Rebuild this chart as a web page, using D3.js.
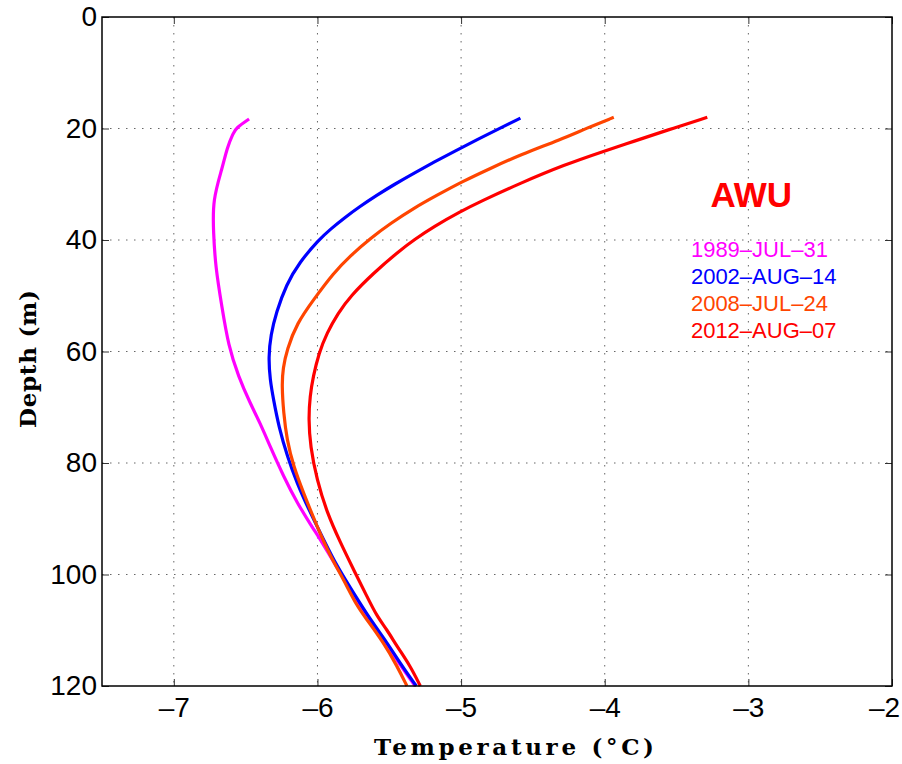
<!DOCTYPE html>
<html>
<head>
<meta charset="utf-8">
<script src="https://cdn.jsdelivr.net/npm/d3@7"></script>
<style>
  body { margin: 0; background: #fff; }
  svg { display: block; }
</style>
</head>
<body>
<div id="chart"></div>
<script>
// profils de température (profondeur en m, température en °C)
const depth1989 = [18.3, 19.9, 20.8, 23.5, 26.9, 32.8, 38.7, 44.8, 51.9, 59, 64.5, 69.2, 72.8, 77, 82.4, 87.1, 91.9, 93.7, 98.5, 103.3, 108.1, 112.2, 116.4, 120];
const temp1989  = [-6.476, -6.566, -6.586, -6.63, -6.66, -6.73, -6.724, -6.71, -6.666, -6.62, -6.55, -6.47, -6.40, -6.33, -6.236, -6.143, -6.027, -5.98, -5.87, -5.755, -5.64, -5.525, -5.42, -5.32];

const depth2002 = [18.15, 20, 22, 24, 26, 28, 30, 32, 34, 36, 38, 40, 44, 48, 53, 57, 61, 65.1, 68.6, 73.4, 78.8, 83.6, 88.9, 93.7, 98.5, 103.3, 108.1, 112.2, 116.4, 120];
const temp2002  = [-4.587, -4.733, -4.888, -5.040, -5.186, -5.327, -5.463, -5.589, -5.705, -5.811, -5.907, -5.993, -6.125, -6.217, -6.287, -6.325, -6.341, -6.33, -6.306, -6.27, -6.21, -6.143, -6.05, -5.958, -5.865, -5.749, -5.632, -5.516, -5.412, -5.312];

const depth2008 = [18, 19.9, 22, 24.7, 27.2, 29.5, 32, 34.3, 37, 39.7, 42.8, 45.9, 50.7, 54.9, 59.7, 63, 66, 71, 75.8, 80.6, 85.4, 91.3, 96.7, 100.9, 105.7, 108.1, 112.2, 116.4, 120];
const temp2008  = [-3.937, -4.122, -4.308, -4.587, -4.80, -4.99, -5.17, -5.33, -5.49, -5.632, -5.77, -5.888, -6.027, -6.143, -6.213, -6.24, -6.248, -6.236, -6.213, -6.167, -6.097, -6.004, -5.911, -5.818, -5.725, -5.655, -5.54, -5.446, -5.377];

const depth2012 = [18, 20.3, 22.3, 24.1, 26.5, 29.8, 33.1, 34.9, 37.6, 40, 41.8, 45.9, 50.1, 53.1, 56.7, 60.3, 64.5, 68, 72, 77, 83, 88.9, 94.3, 99.1, 103.9, 107.5, 109.9, 112.9, 116.4, 120];
const temp2012  = [-3.286, -3.565, -3.797, -4.01, -4.28, -4.587, -4.866, -5.005, -5.191, -5.33, -5.423, -5.609, -5.772, -5.856, -5.935, -5.99, -6.03, -6.052, -6.062, -6.05, -6.004, -5.934, -5.84, -5.749, -5.656, -5.586, -5.516, -5.446, -5.354, -5.284];

const seriesNames = ["1989–JUL–31", "2002–AUG–14", "2008–JUL–24", "2012–AUG–07"];
const seriesColors = ["#ff00ff", "#0000ff", "#ff4500", "#ff0000"];

const tempTicks = [-7, -6, -5, -4, -3, -2];
const depthTicks = [0, 20, 40, 60, 80, 100, 120];

const series = [
  { name: seriesNames[0], depth: depth1989, temp: temp1989 },
  { name: seriesNames[1], depth: depth2002, temp: temp2002 },
  { name: seriesNames[2], depth: depth2008, temp: temp2008 },
  { name: seriesNames[3], depth: depth2012, temp: temp2012 }
];

const W = 902, H = 764;
const margin = { top: 17, right: 10, bottom: 78, left: 102 };
const width = W - margin.left - margin.right;
const height = H - margin.top - margin.bottom;

const svg = d3.select("#chart").append("svg")
  .attr("width", W)
  .attr("height", H);

const g = svg.append("g")
  .attr("transform", `translate(${margin.left},${margin.top})`);

const x = d3.scaleLinear().domain([-7.5, -2]).range([0, width]);
const y = d3.scaleLinear().domain([0, 120]).range([0, height]);

const fmt = d => d < 0 ? "–" + Math.abs(d) : String(d);

// grille pointillée
g.append("g").selectAll("line")
  .data(tempTicks.slice(0, -1))
  .join("line")
  .attr("x1", d => x(d)).attr("x2", d => x(d))
  .attr("y1", 0).attr("y2", height)
  .attr("stroke", "#666")
  .attr("stroke-dasharray", "1.5,6.5");

g.append("g").selectAll("line")
  .data(depthTicks.slice(1, -1))
  .join("line")
  .attr("x1", 0).attr("x2", width)
  .attr("y1", d => y(d)).attr("y2", d => y(d))
  .attr("stroke", "#666")
  .attr("stroke-dasharray", "1.5,6.5");

// courbes (lissées)
const line = d3.line()
  .x(d => x(d[1]))
  .y(d => y(d[0]))
  .curve(d3.curveBasis);

series.forEach((s, i) => {
  g.append("path")
    .datum(d3.zip(s.depth, s.temp))
    .attr("fill", "none")
    .attr("stroke", seriesColors[i])
    .attr("stroke-width", 3.2)
    .attr("d", line);
});

// axes (ticks vers l'intérieur, comme MATLAB)
const axisStyle = sel => {
  sel.select(".domain").remove();
  sel.selectAll(".tick line").attr("stroke", "#333");
  sel.selectAll("text")
    .style("font-family", "'Liberation Sans', Arial, sans-serif")
    .style("font-size", "28px")
    .attr("fill", "#000");
};

g.append("g")
  .attr("transform", `translate(0,${height})`)
  .call(d3.axisBottom(x).tickValues(tempTicks).tickFormat(fmt).tickSize(-7).tickPadding(11))
  .call(axisStyle)
  .selectAll(".tick text")
  .attr("dx", d => d === -2 ? -8 : 0);

g.append("g")
  .call(d3.axisTop(x).tickValues(tempTicks).tickFormat("").tickSize(-7))
  .call(axisStyle);

g.append("g")
  .call(d3.axisLeft(y).tickValues(depthTicks).tickFormat(fmt).tickSize(-7).tickPadding(5))
  .call(axisStyle);

g.append("g")
  .attr("transform", `translate(${width},0)`)
  .call(d3.axisRight(y).tickValues(depthTicks).tickFormat("").tickSize(-7))
  .call(axisStyle);

g.append("rect")
  .attr("width", width)
  .attr("height", height)
  .attr("fill", "none")
  .attr("stroke", "#000")
  .attr("stroke-width", 1.5);

// légende
g.append("text")
  .attr("x", x(-2.98))
  .attr("y", y(34))
  .attr("text-anchor", "middle")
  .style("font-family", "'Liberation Sans', Arial, sans-serif")
  .style("font-size", "35px")
  .style("font-weight", "bold")
  .attr("fill", "#ff0000")
  .text("AWU");

g.selectAll(".leg")
  .data(series)
  .join("text")
  .attr("class", "leg")
  .attr("x", x(-3.4))
  .attr("y", (d, i) => y(43) + i * 27)
  .style("font-family", "'Liberation Sans', Arial, sans-serif")
  .style("font-size", "22px")
  .attr("fill", (d, i) => seriesColors[i])
  .text(d => d.name);

// titres des axes
svg.append("text")
  .attr("x", 514)
  .attr("y", 755)
  .attr("text-anchor", "middle")
  .attr("textLength", 280)
  .attr("lengthAdjust", "spacing")
  .style("font-family", "'DejaVu Serif', serif")
  .style("font-size", "23px")
  .style("font-weight", "bold")
  .text("Temperature (°C)");

svg.append("text")
  .attr("transform", "translate(36,359) rotate(-90)")
  .attr("text-anchor", "middle")
  .attr("textLength", 138)
  .attr("lengthAdjust", "spacing")
  .style("font-family", "'DejaVu Serif', serif")
  .style("font-size", "23px")
  .style("font-weight", "bold")
  .text("Depth (m)");
</script>
</body>
</html>
